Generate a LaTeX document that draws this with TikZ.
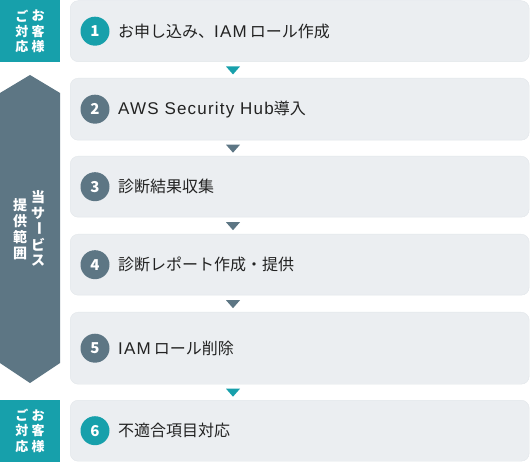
\documentclass[tikz,border=0pt]{standalone}
\usepackage{fontspec}
\setmainfont{Noto Sans CJK JP}
\newfontfamily\latf[LetterSpace=7]{Liberation Sans}
\usetikzlibrary{calc}
\definecolor{tealc}{HTML}{17A0AB}
\definecolor{slatec}{HTML}{5D7684}
\definecolor{boxbg}{HTML}{EBEEF1}
\definecolor{boxline}{HTML}{E2E6EA}
\definecolor{txt}{HTML}{222222}
\newcommand{\lt}[1]{{\latf\fontsize{17}{17}\selectfont #1}}
\begin{document}
\begin{tikzpicture}[x=1pt,y=-1pt,
  stepbox/.style={draw=boxline, fill=boxbg, rounded corners=8pt, minimum width=459pt, anchor=north west, inner sep=0pt},
  numc/.style={circle, minimum size=29pt, inner sep=0pt, text=white, font=\fontsize{15}{15}\selectfont\bfseries},
  steptext/.style={anchor=west, inner sep=0pt, text=txt, font=\fontsize{16}{16}\selectfont},
  sidech/.style={inner sep=0pt, text=white, font=\fontsize{13}{13}\selectfont\bfseries},
  vch/.style={inner sep=0pt, text=white, font=\fontsize{14}{14}\selectfont\bfseries}
]
\useasboundingbox (0,0) rectangle (530,462);

% customer blocks
\fill[tealc] (0,0) rectangle (60,62);
\fill[tealc] (0,400) rectangle (60,462);
% service range hexagon
\fill[slatec] (30,75) -- (60,93) -- (60,363) -- (30,383) -- (0,363) -- (0,93) -- cycle;

% top block text
\node[sidech] (a1) at (22,16) {ご};
\node[sidech] (a2) at (38,16) {お};
\node[sidech] (a3) at (22,31.5) {対};
\node[sidech] (a4) at (38,31.5) {客};
\node[sidech] (a5) at (22,47) {応};
\node[sidech] (a6) at (38,47) {様};
% bottom block text
\node[sidech] (z1) at (22,415.5) {ご};
\node[sidech] (z2) at (38,415.5) {お};
\node[sidech] (z3) at (22,431) {対};
\node[sidech] (z4) at (38,431) {客};
\node[sidech] (z5) at (22,446.5) {応};
\node[sidech] (z6) at (38,446.5) {様};
% vertical service text
\node[vch] (r1) at (38,197) {当};
\node[vch] (r2) at (38,213) {サ};
\node[vch,rotate=-90] (r3) at (38,229) {ー};
\node[vch] (r4) at (38,245) {ビ};
\node[vch] (r5) at (38,261) {ス};
\node[vch] (l1) at (20,205) {提};
\node[vch] (l2) at (20,221) {供};
\node[vch] (l3) at (20,237) {範};
\node[vch] (l4) at (20,253) {囲};

% step boxes
\node[stepbox, minimum height=61pt] (b1) at (70,0.5) {};
\node[stepbox, minimum height=62pt] (b2) at (70,78) {};
\node[stepbox, minimum height=61pt] (b3) at (70,156) {};
\node[stepbox, minimum height=61pt] (b4) at (70,234) {};
\node[stepbox, minimum height=72pt] (b5) at (70,312) {};
\node[stepbox, minimum height=61pt] (b6) at (70,400) {};

% numbers and labels
\node[numc, fill=tealc] (n1) at (95,0 |- b1.west) {1};
\node[steptext] (t1) at (118,0 |- b1.west) {お申し込み、\lt{IAM}\hspace{3pt}ロール作成};
\node[numc, fill=slatec] (n2) at (95,0 |- b2.west) {2};
\node[steptext] (t2) at (118,0 |- b2.west) {\lt{AWS Security Hub}導入};
\node[numc, fill=slatec] (n3) at (95,0 |- b3.west) {3};
\node[steptext] (t3) at (118,0 |- b3.west) {診断結果収集};
\node[numc, fill=slatec] (n4) at (95,0 |- b4.west) {4};
\node[steptext] (t4) at (118,0 |- b4.west) {診断レポート作成・提供};
\node[numc, fill=slatec] (n5) at (95,0 |- b5.west) {5};
\node[steptext] (t5) at (118,0 |- b5.west) {\lt{IAM}\hspace{3pt}ロール削除};
\node[numc, fill=tealc] (n6) at (95,0 |- b6.west) {6};
\node[steptext] (t6) at (118,0 |- b6.west) {不適合項目対応};

% arrows between steps
\foreach \u/\v/\c in {b1/b2/tealc, b2/b3/slatec, b3/b4/slatec, b4/b5/slatec, b5/b6/tealc}{
  \coordinate (m) at ($(\u.south)!0.5!(\v.north)$);
  \fill[\c] (226,0 |- m) ++(0,-3.5) -- ++(14,0) -- ++(-7,8) -- cycle;
}
\end{tikzpicture}
\end{document}
